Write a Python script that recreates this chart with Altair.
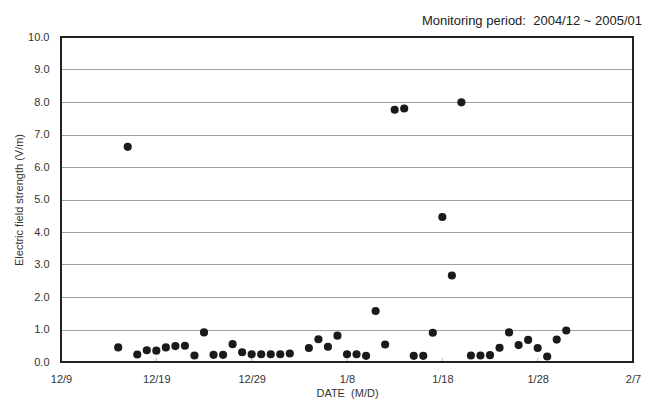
import altair as alt
import pandas as pd

dates = [
    "2004-12-15", "2004-12-16", "2004-12-17", "2004-12-18", "2004-12-19",
    "2004-12-20", "2004-12-21", "2004-12-22", "2004-12-23", "2004-12-24",
    "2004-12-25", "2004-12-26", "2004-12-27", "2004-12-28", "2004-12-29",
    "2004-12-30", "2004-12-31", "2005-01-01", "2005-01-02",
    "2005-01-04", "2005-01-05", "2005-01-06", "2005-01-07", "2005-01-08",
    "2005-01-09", "2005-01-10", "2005-01-11", "2005-01-12", "2005-01-13",
    "2005-01-14", "2005-01-15", "2005-01-16", "2005-01-17", "2005-01-18",
    "2005-01-19", "2005-01-20", "2005-01-21", "2005-01-22", "2005-01-23",
    "2005-01-24", "2005-01-25", "2005-01-26", "2005-01-27", "2005-01-28",
    "2005-01-29", "2005-01-30", "2005-01-31",
]
values = [
    0.45, 6.62, 0.23, 0.36, 0.35,
    0.45, 0.49, 0.50, 0.20, 0.91,
    0.22, 0.22, 0.55, 0.30, 0.24,
    0.24, 0.24, 0.24, 0.26,
    0.43, 0.70, 0.47, 0.81, 0.24,
    0.24, 0.19, 1.57, 0.54, 7.76,
    7.80, 0.19, 0.19, 0.90, 4.46,
    2.66, 7.99, 0.20, 0.20, 0.21,
    0.44, 0.91, 0.52, 0.68, 0.43,
    0.17, 0.69, 0.97,
]
tick_dates = ["2004-12-09", "2004-12-19", "2004-12-29", "2005-01-08",
              "2005-01-18", "2005-01-28", "2005-02-07"]
y_ticks = [0, 1, 2, 3, 4, 5, 6, 7, 8, 9, 10]
title_text = "Monitoring period:\u00a0 2004/12 ~ 2005/01"

df = pd.DataFrame({"date": dates, "value": values})
ticks_df = pd.DataFrame({"date": tick_dates[1:-1]})
title_df = pd.DataFrame({"t": [title_text]})

W, H = 572, 325
FONT = "Liberation Sans"


def dt(s):
    y, m, d = (int(p) for p in s.split("-"))
    return alt.DateTime(year=y, month=m, date=d, utc=True)


xscale = alt.Scale(type="utc", domain=[dt(tick_dates[0]), dt(tick_dates[-1])])
yscale = alt.Scale(domain=[0, 10], nice=False)

points = alt.Chart(df).mark_circle(size=66, color="#1a1a1a", opacity=1).encode(
    x=alt.X(
        "date:T",
        scale=xscale,
        axis=alt.Axis(
            values=[dt(t) for t in tick_dates],
            format="%-m/%-d",
            title="DATE\u00a0 (M/D)",
            grid=False,
            tickSize=0,
            domain=False,
            labelPadding=11,
            labelFont=FONT,
            labelFontSize=11,
            labelColor="#333333",
            titleFont=FONT,
            titleFontSize=11,
            titleFontWeight="normal",
            titleColor="#333333",
            titlePadding=3,
            labelFlush=False,
        ),
    ),
    y=alt.Y(
        "value:Q",
        scale=yscale,
        axis=alt.Axis(
            values=y_ticks,
            format=".1f",
            title="Electric field strength (V/m)",
            grid=True,
            gridColor="#a0a0a0",
            gridWidth=1,
            tickSize=0,
            domain=False,
            labelPadding=12,
            labelFont=FONT,
            labelFontSize=11,
            labelColor="#333333",
            titleFont=FONT,
            titleFontSize=11,
            titleFontWeight="normal",
            titleColor="#333333",
            titlePadding=3,
            labelFlush=False,
        ),
    ),
)

tick_marks = alt.Chart(ticks_df).mark_rule(color="#bbbbbb", strokeWidth=1).encode(
    x=alt.X("date:T", scale=xscale),
    y=alt.value(H),
    y2=alt.value(H - 4),
)

frame = alt.Chart(title_df).mark_rect(
    fill=None, fillOpacity=0, stroke="#222222", strokeWidth=2
).encode(
    x=alt.value(0), x2=alt.value(W), y=alt.value(0), y2=alt.value(H)
)

title = alt.Chart(title_df).mark_text(
    align="right", baseline="alphabetic", font=FONT, fontSize=13, color="#222222"
).encode(
    x=alt.value(W + 9), y=alt.value(-12), text="t:N"
)

chart = (
    alt.layer(tick_marks, points, frame, title)
    .properties(
        width=W,
        height=H,
        autosize=alt.AutoSizeParams(type="none"),
        padding={"left": 53, "top": 29, "right": 11, "bottom": 39},
    )
    .configure_view(stroke=None)
    .configure(background="white")
)

chart.save("out.html", embed_options={"renderer": "svg", "actions": False})
